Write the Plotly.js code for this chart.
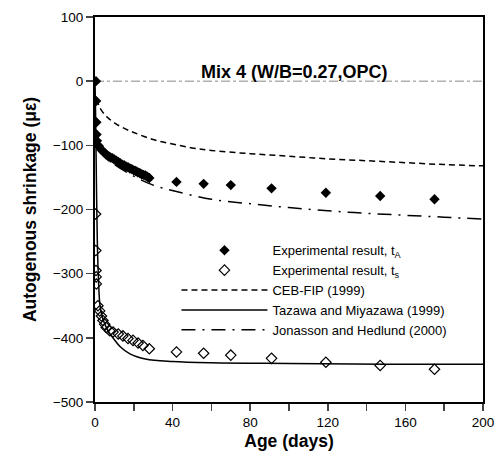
<!DOCTYPE html>
<html>
<head>
<meta charset="utf-8">
<script src="https://cdn.plot.ly/plotly-3.0.1.min.js"></script>
<style>
  body { margin: 0; background: #fff; }
  #chart { width: 500px; height: 462px; }
</style>
</head>
<body>
<div id="chart"></div>
<script>
// experimental result, tA (filled diamonds)
var ageA = [0.5, 0.6, 0.7, 0.8, 1, 2, 3, 4, 5, 6, 7, 8, 9, 10, 11, 12, 13, 14, 15, 16, 17, 18, 19, 20,
            21, 22, 23, 24, 25, 26, 27, 28, 42, 56, 70, 91, 119, 147, 175];
var shrinkA = [0, -31, -64, -83, -93, -101, -106, -109, -112, -115, -117, -119, -120, -122, -124, -126,
               -128, -130, -131, -133, -134, -136, -137, -139, -140, -142, -143, -145, -146, -147, -149,
               -151, -157, -160, -162, -167, -174, -179, -184];

// experimental result, ts (open diamonds)
var ageS = [0.3, 0.4, 0.5, 0.6, 0.7, 1.5, 2.4, 3.3, 4.1, 5, 5.8, 7.6, 9.3, 12, 14.4, 17, 19.6, 22.2,
            24.7, 28, 42, 56, 70, 91, 119, 147, 175];
var shrinkS = [-207, -264, -295, -305, -316, -350, -358, -366, -373, -379, -384, -389, -391, -394, -397,
               -401, -404, -408, -412, -417, -422, -424, -427, -432, -438, -443, -449];

// CEB-FIP (1999)
var ageCeb = [1, 2, 3, 5, 7, 10, 14, 20, 30, 40, 50, 60, 80, 100, 120, 140, 160, 180, 200];
var shrinkCeb = [-28, -38, -44, -52, -58, -65, -72, -80, -91, -98, -104, -108, -113, -117, -121, -124,
                 -127, -130, -132];

// Tazawa and Miyazawa (1999)
var ageTaz = [0, 0.3, 0.7, 1.2, 1.8, 2.6, 4, 6, 8, 10, 13, 18, 26, 40, 60, 100, 150, 200];
var shrinkTaz = [0, -50, -150, -250, -310, -350, -370, -385, -395, -403, -414, -425, -433, -437, -439,
                 -440, -441, -441];

// Jonasson and Hedlund (2000)
var ageJon = [1, 2, 5, 10, 20, 30, 42, 60, 80, 100, 120, 140, 160, 180, 200];
var shrinkJon = [-95, -105, -118, -130, -148, -162, -172, -184, -191, -197, -202, -206, -209, -212, -215];

var legendNames = ['Experimental result, t<sub>A</sub>', 'Experimental result, t<sub>s</sub>',
                   'CEB-FIP (1999)', 'Tazawa and Miyazawa (1999)', 'Jonasson and Hedlund (2000)'];

var fontFam = 'Liberation Sans, Arial, sans-serif';

var traces = [
    {
        x: ageA, y: shrinkA, name: legendNames[0],
        type: 'scatter', mode: 'markers',
        marker: {symbol: 'diamond', size: 8, color: '#000'}
    },
    {
        x: ageS, y: shrinkS, name: legendNames[1],
        type: 'scatter', mode: 'markers',
        marker: {symbol: 'diamond-open', size: 8, color: '#000', line: {width: 1.2}}
    },
    {
        x: ageCeb, y: shrinkCeb, name: legendNames[2],
        type: 'scatter', mode: 'lines', line: {shape: 'spline', color: '#000', width: 1.5, dash: '6px,4px'}
    },
    {
        x: ageTaz, y: shrinkTaz, name: legendNames[3],
        type: 'scatter', mode: 'lines', line: {shape: 'spline', color: '#000', width: 1.5}
    },
    {
        x: ageJon, y: shrinkJon, name: legendNames[4],
        type: 'scatter', mode: 'lines', line: {shape: 'spline', color: '#000', width: 1.5, dash: '14px,7px,2px,7px'}
    }
];

var layout = {
    width: 500,
    height: 462,
    margin: {l: 95, r: 17, t: 17, b: 60},
    paper_bgcolor: '#fff',
    plot_bgcolor: '#fff',
    font: {family: fontFam, size: 13.5, color: '#000'},
    showlegend: true,
    legend: {
        x: 0.21, y: 0.433, xanchor: 'left', yanchor: 'top',
        bgcolor: 'rgba(0,0,0,0)',
        font: {family: fontFam, size: 13, color: '#000'},
        itemwidth: 86,
        tracegroupgap: 0
    },
    xaxis: {
        range: [0, 200],
        dtick: 40,
        tick0: 0,
        ticks: 'outside',
        ticklen: 7,
        tickwidth: 1.5,
        showline: true,
        linewidth: 2,
        linecolor: '#000',
        mirror: true,
        showgrid: false,
        zeroline: false,
        minor: {dtick: 20, ticks: 'outside', ticklen: 7, tickwidth: 1.5, showgrid: false},
        title: {text: 'Age (days)', font: {family: fontFam, size: 17.5, weight: 'bold'}, standoff: 6}
    },
    yaxis: {
        range: [-500, 100],
        dtick: 100,
        ticks: 'outside',
        ticklen: 7,
        tickwidth: 1.5,
        showline: true,
        linewidth: 2,
        linecolor: '#000',
        mirror: true,
        showgrid: false,
        zeroline: false,
        title: {text: 'Autogenous shrinkage (\u03bc\u03b5)', font: {family: fontFam, size: 17.5, weight: 'bold'}, standoff: 12}
    },
    shapes: [
        {type: 'line', xref: 'x', yref: 'y', x0: 0, x1: 200, y0: 0, y1: 0,
         line: {color: '#888', width: 1, dash: 'dashdot'}, layer: 'below'}
    ],
    annotations: [
        {xref: 'paper', yref: 'y', x: 0.514, y: 0, yanchor: 'bottom', xanchor: 'center', yshift: -3,
         text: '<b>Mix 4 (W/B=0.27,OPC)</b>', showarrow: false,
         font: {family: fontFam, size: 18, color: '#000'}}
    ]
};

Plotly.newPlot('chart', traces, layout, {displayModeBar: false, staticPlot: true});
</script>
</body>
</html>
